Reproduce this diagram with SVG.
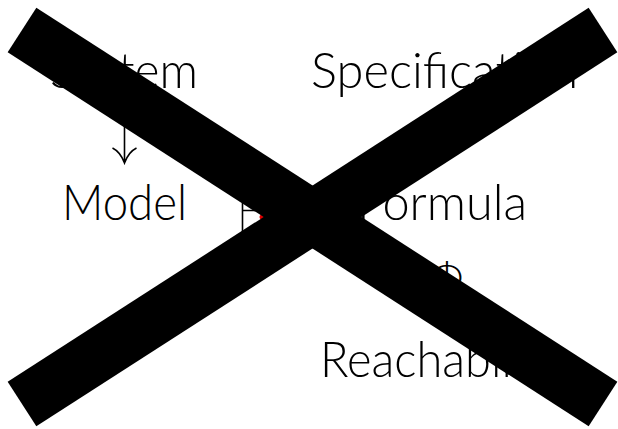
<svg xmlns="http://www.w3.org/2000/svg" width="618" height="429" viewBox="0 0 618 429">
<style>
.t{font-family:Lato,"Open Sans","Liberation Sans",sans-serif;font-weight:300;font-size:50px;fill:#000}
.ln{stroke:#000;stroke-width:1.6;fill:none}
</style>
<rect width="618" height="429" fill="#fff"/>
<g id="system"><text class="t" x="50" y="88" textLength="148" lengthAdjust="spacingAndGlyphs">System</text></g>
<g id="specification"><text class="t" x="311" y="88" textLength="267" lengthAdjust="spacingAndGlyphs">Specification</text></g>
<g id="model"><text class="t" x="62" y="220" textLength="125" lengthAdjust="spacingAndGlyphs">Model</text></g>
<g id="formula"><text class="t" x="357" y="220" textLength="170" lengthAdjust="spacingAndGlyphs">Formula</text></g>
<g id="reachability"><text class="t" x="320" y="377" textLength="242" lengthAdjust="spacingAndGlyphs">Reachability</text></g>
<g id="models-symbol">
<path class="ln" d="M242.5,203V233M242.5,210.5H266"/>
<circle cx="262" cy="217" r="2.5" fill="#e00000"/>
</g>
<g id="phi"><text class="t" x="447" y="292" text-anchor="middle" style="font-size:40px">Φ</text></g>
<g id="connectors">
<path class="ln" d="M124.5,112V162M112.5,148Q120.5,152 124.5,163Q128.5,152 136.5,148"/>
</g>
<g id="cross" stroke="#000" stroke-width="53" stroke-linecap="butt">
<line x1="22" y1="30" x2="603" y2="404"/>
<line x1="603" y1="30" x2="22" y2="404"/>
</g>
</svg>
